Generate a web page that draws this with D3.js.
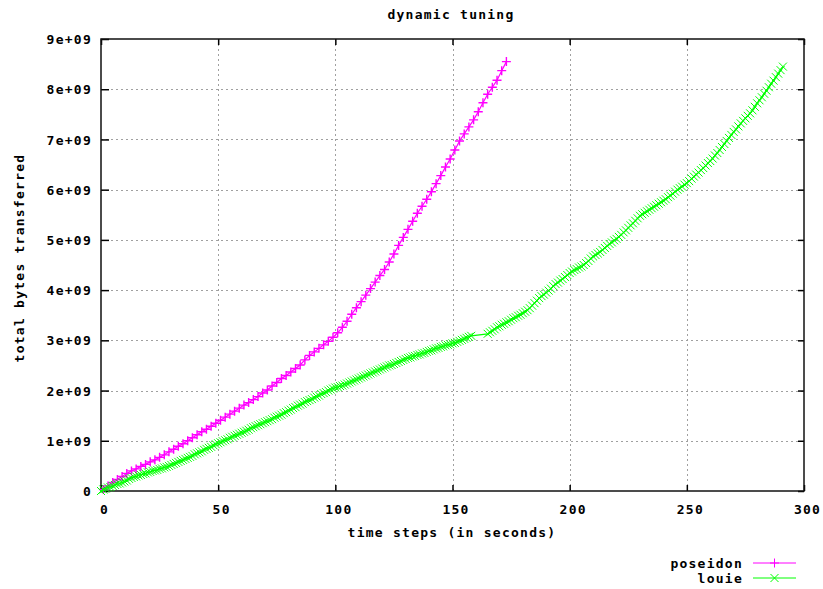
<!DOCTYPE html>
<html><head><meta charset="utf-8">
<script src="https://cdn.jsdelivr.net/npm/d3@7"></script>
<style>
html,body{margin:0;padding:0;background:#fff;}
text{font-family:"DejaVu Sans Mono",monospace;font-weight:bold;font-size:13px;letter-spacing:1.25px;fill:#000;}
</style></head>
<body>
<svg id="chart" width="823" height="589"></svg>
<script>
const chartTitle = "dynamic tuning";
const xLabel = "time steps (in seconds)";
const yLabel = "total bytes transferred";
const xTickValues = [0, 50, 100, 150, 200, 250, 300];
const yTickValues = [0, 1e9, 2e9, 3e9, 4e9, 5e9, 6e9, 7e9, 8e9, 9e9];
const yTickLabels = ["0", "1e+09", "2e+09", "3e+09", "4e+09", "5e+09", "6e+09", "7e+09", "8e+09", "9e+09"];
const seriesNames = ["poseidon", "louie"];
const seriesColors = ["#ff00ff", "#00ff00"];

// poseidon: samples every 2 s starting at t=1 (values in units of 1e9 bytes)
const poseidonStart = 1, poseidonStep = 2;
const poseidonValues = [
 0.03,0.10,0.17,0.23,0.29,0.35,0.40,0.44,0.49,0.53,
 0.58,0.62,0.67,0.72,0.78,0.83,0.89,0.94,1.00,1.06,
 1.12,1.18,1.23,1.29,1.35,1.41,1.47,1.53,1.59,1.65,
 1.71,1.76,1.82,1.88,1.95,2.01,2.09,2.16,2.24,2.30,
 2.37,2.44,2.51,2.61,2.70,2.77,2.84,2.91,2.98,3.06,
 3.15,3.26,3.38,3.52,3.65,3.77,3.90,4.03,4.16,4.29,
 4.41,4.56,4.72,4.89,5.05,5.21,5.37,5.53,5.67,5.81,
 5.96,6.12,6.28,6.45,6.61,6.79,6.97,7.11,7.25,7.39,
 7.55,7.73,7.90,8.04,8.18,8.37,8.55
];

// louie: samples every 1 s starting at t=0; null = missing sample (t=159..164)
const louieStart = 0, louieStep = 1;
const louieValues = [
 0,0.03,0.05,0.07,0.08,0.10,0.12,0.14,0.15,0.17,0.19,
 0.21,0.24,0.26,0.28,0.29,0.31,0.32,0.34,0.35,0.37,
 0.38,0.40,0.41,0.42,0.44,0.45,0.47,0.48,0.50,0.52,
 0.54,0.56,0.58,0.60,0.62,0.64,0.66,0.68,0.70,0.73,
 0.75,0.77,0.79,0.82,0.84,0.86,0.88,0.91,0.93,0.95,
 0.97,0.99,1.01,1.03,1.06,1.08,1.10,1.12,1.14,1.16,
 1.18,1.20,1.22,1.25,1.27,1.29,1.31,1.33,1.35,1.37,
 1.39,1.41,1.43,1.46,1.48,1.50,1.52,1.55,1.57,1.60,
 1.62,1.65,1.67,1.70,1.72,1.74,1.77,1.79,1.81,1.83,
 1.86,1.88,1.90,1.93,1.95,1.97,2.00,2.02,2.04,2.06,
 2.07,2.09,2.10,2.12,2.14,2.16,2.18,2.20,2.22,2.24,
 2.26,2.28,2.30,2.32,2.34,2.36,2.38,2.40,2.42,2.44,
 2.46,2.48,2.50,2.51,2.53,2.55,2.57,2.59,2.61,2.63,
 2.65,2.66,2.68,2.69,2.71,2.72,2.74,2.75,2.77,2.79,
 2.80,2.82,2.84,2.85,2.87,2.88,2.90,2.91,2.92,2.94,
 2.95,2.97,2.99,3.01,3.03,3.05,3.07,3.09,
 null,null,null,null,null,null,
 3.13,3.16,3.19,3.22,3.26,3.28,
 3.31,3.33,3.36,3.38,3.41,3.44,3.46,3.49,3.51,3.54,
 3.57,3.60,3.64,3.69,3.74,3.79,3.84,3.88,3.91,3.95,
 3.99,4.03,4.08,4.12,4.15,4.19,4.22,4.26,4.30,4.34,
 4.37,4.40,4.42,4.45,4.47,4.50,4.54,4.58,4.63,4.67,
 4.70,4.73,4.76,4.80,4.84,4.88,4.92,4.95,4.99,5.02,
 5.06,5.10,5.15,5.19,5.24,5.29,5.33,5.38,5.43,5.48,
 5.51,5.54,5.57,5.60,5.63,5.66,5.69,5.72,5.75,5.78,
 5.81,5.85,5.88,5.92,5.96,6.00,6.03,6.06,6.10,6.13,
 6.17,6.22,6.26,6.30,6.34,6.39,6.43,6.48,6.53,6.57,
 6.62,6.68,6.73,6.79,6.85,6.91,6.97,7.03,7.09,7.15,
 7.20,7.26,7.32,7.37,7.42,7.47,7.52,7.58,7.65,7.72,
 7.78,7.84,7.91,7.97,8.04,8.11,8.17,8.24,8.31,8.38,8.45
];

const svg = d3.select("#chart");
const W = 823, H = 589;
const m = {left: 101, right: 823 - 804, top: 39, bottom: 589 - 491};
const x = d3.scaleLinear().domain([0, 300]).range([m.left, W - m.right]);
const y = d3.scaleLinear().domain([0, 9e9]).range([H - m.bottom, m.top]);

function toPoints(vals, start, step) {
  return vals.map((v, i) => v == null ? null : {t: start + i * step, v: v * 1e9}).filter(d => d);
}
const series = [
  {name: seriesNames[0], color: seriesColors[0], pts: toPoints(poseidonValues, poseidonStart, poseidonStep), sym: "plus"},
  {name: seriesNames[1], color: seriesColors[1], pts: toPoints(louieValues, louieStart, louieStep), sym: "cross"}
];

// grid
const grid = svg.append("g").attr("stroke", "#a0a0a0").attr("stroke-width", 1).attr("stroke-dasharray", "2,3");
xTickValues.slice(1, -1).forEach(t => {
  grid.append("line").attr("x1", Math.round(x(t)) + 0.5).attr("x2", Math.round(x(t)) + 0.5)
    .attr("y1", y(9e9)).attr("y2", y(0));
});
yTickValues.slice(1, -1).forEach(v => {
  grid.append("line").attr("y1", Math.round(y(v)) + 0.5).attr("y2", Math.round(y(v)) + 0.5)
    .attr("x1", x(0)).attr("x2", x(300));
});

// axes using d3 axis generators (inward ticks, mirrored)
const tickLen = 6;
const axB = svg.append("g").attr("transform", `translate(0,${y(0)})`)
  .call(d3.axisBottom(x).tickValues(xTickValues).tickSize(-tickLen).tickPadding(14).tickFormat(d3.format("d")));
const axT = svg.append("g").attr("transform", `translate(0,${y(9e9)})`)
  .call(d3.axisTop(x).tickValues(xTickValues).tickSize(-tickLen).tickFormat(""));
const axL = svg.append("g").attr("transform", `translate(${x(0)},0)`)
  .call(d3.axisLeft(y).tickValues(yTickValues).tickSize(-tickLen - 2).tickPadding(9)
    .tickFormat((d, i) => yTickLabels[i]));
const axR = svg.append("g").attr("transform", `translate(${x(300)},0)`)
  .call(d3.axisRight(y).tickValues(yTickValues).tickSize(-tickLen).tickFormat(""));
[axB, axT, axL, axR].forEach(a => {
  a.select(".domain").remove();
  a.selectAll(".tick line").attr("stroke", "#000").attr("stroke-width", 1.5);
  a.selectAll("text").attr("font-family", null).attr("font-size", null).attr("fill", "#000");
});
axL.selectAll("text").attr("dy", "0.35em");
axB.selectAll("text").attr("dx", 3);

// border
svg.append("rect").attr("x", x(0)).attr("y", y(9e9)).attr("width", x(300) - x(0)).attr("height", y(0) - y(9e9))
  .attr("fill", "none").attr("stroke", "#111").attr("stroke-width", 1.5);

// series
const line = d3.line().x(d => x(d.t)).y(d => y(d.v));
function symPath(cx, cy, sym) {
  if (sym === "plus") return `M${cx - 4.5},${cy}H${cx + 4.5}M${cx},${cy - 4.5}V${cy + 4.5}`;
  return `M${cx - 4},${cy - 4}L${cx + 4},${cy + 4}M${cx - 4},${cy + 4}L${cx + 4},${cy - 4}`;
}
const plotG = svg.append("g");
series.forEach(s => {
  plotG.append("path").datum(s.pts).attr("d", line).attr("fill", "none").attr("stroke", s.color).attr("stroke-width", 1.2);
  plotG.append("path").attr("d", s.pts.map(d => symPath(x(d.t), y(d.v), s.sym)).join(""))
    .attr("fill", "none").attr("stroke", s.color).attr("stroke-width", s.sym === "plus" ? 1.4 : 1);
});

// title and axis labels
svg.append("text").attr("x", 451).attr("y", 19).attr("text-anchor", "middle").text(chartTitle);
svg.append("text").attr("x", 452).attr("y", 537).attr("text-anchor", "middle").text(xLabel);
svg.append("text").attr("transform", `translate(24,258) rotate(-90)`)
  .attr("text-anchor", "middle").text(yLabel);

// legend
const legX1 = 753, legX2 = 796, legTextX = 743;
series.forEach((s, i) => {
  const ly = 563 + i * 15;
  svg.append("text").attr("x", legTextX).attr("y", ly).attr("dy", "0.35em").attr("text-anchor", "end").text(s.name);
  svg.append("line").attr("x1", legX1).attr("x2", legX2).attr("y1", ly).attr("y2", ly).attr("stroke", s.color);
  svg.append("path").attr("d", symPath((legX1 + legX2) / 2, ly, s.sym)).attr("fill", "none").attr("stroke", s.color);
});
</script>
</body></html>
